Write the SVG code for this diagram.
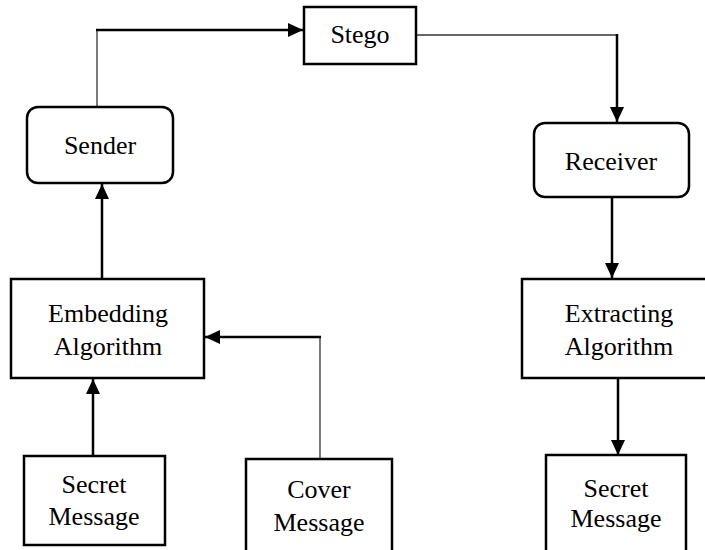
<svg xmlns="http://www.w3.org/2000/svg" width="705" height="550" viewBox="0 0 705 550">
<style>
.box{fill:#fff;stroke:#000;stroke-width:2.5}
text{font-family:'Liberation Serif','Times New Roman',Times,serif;font-size:26px;fill:#000;text-anchor:middle}
.thick{fill:none;stroke:#000;stroke-width:2.5}
.thin{fill:none;stroke:#333;stroke-width:1.3}
</style>
<defs>
<marker id="ah" markerUnits="userSpaceOnUse" markerWidth="16" markerHeight="14" refX="15" refY="7" orient="auto">
<path d="M0,0 L15,7 L0,14 Z" fill="#000"/>
</marker>
</defs>
<rect width="705" height="550" fill="#fff"/>
<g id="connectors">
<path class="thin" d="M97,107 V30"/>
<path class="thick" d="M96,30 H303" marker-end="url(#ah)"/>
<path class="thin" d="M416,35 H617"/>
<path class="thick" d="M617,34 V122" marker-end="url(#ah)"/>
<path class="thick" d="M612,197 V278" marker-end="url(#ah)"/>
<path class="thick" d="M618,378 V455" marker-end="url(#ah)"/>
<path class="thick" d="M102,279 V184" marker-end="url(#ah)"/>
<path class="thick" d="M93,456 V379" marker-end="url(#ah)"/>
<path class="thin" d="M320,459 V337"/>
<path class="thick" d="M321,337 H205" marker-end="url(#ah)"/>
</g>
<g id="stego">
<rect class="box" x="304" y="7" width="112" height="57"/>
<text x="360" y="43">Stego</text>
</g>
<g id="sender">
<rect class="box" x="27" y="107" width="146" height="76" rx="11"/>
<text x="100" y="154">Sender</text>
</g>
<g id="receiver">
<rect class="box" x="534" y="123" width="155" height="74" rx="11"/>
<text x="611" y="170">Receiver</text>
</g>
<g id="embedding">
<rect class="box" x="11" y="279" width="193" height="99"/>
<text x="108" y="322">Embedding</text>
<text x="108" y="355">Algorithm</text>
</g>
<g id="extracting">
<rect class="box" x="522" y="279" width="194" height="99"/>
<text x="619" y="322">Extracting</text>
<text x="619" y="355">Algorithm</text>
</g>
<g id="secret-left">
<rect class="box" x="24" y="456" width="141" height="89"/>
<text x="94" y="493">Secret</text>
<text x="94" y="525">Message</text>
</g>
<g id="cover">
<rect class="box" x="246" y="459" width="146" height="100"/>
<text x="319" y="498">Cover</text>
<text x="319" y="531">Message</text>
</g>
<g id="secret-right">
<rect class="box" x="546" y="455" width="140" height="100"/>
<text x="616" y="497">Secret</text>
<text x="616" y="527">Message</text>
</g>
</svg>
